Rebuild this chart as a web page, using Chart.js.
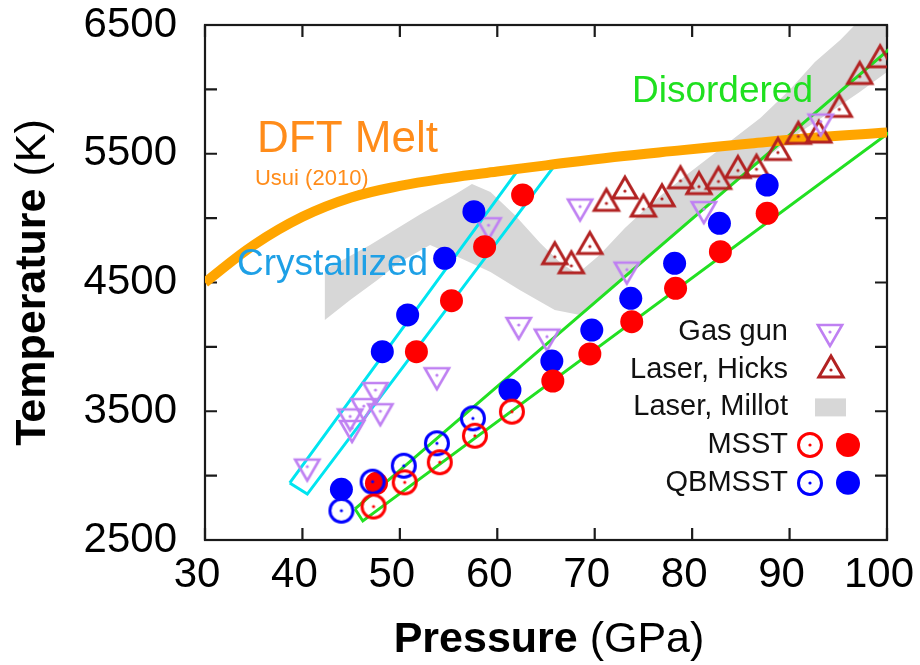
<!DOCTYPE html>
<html>
<head>
<meta charset="utf-8">
<title>Temperature vs Pressure</title>
<script src="https://cdn.jsdelivr.net/npm/chart.js@4.4.1/dist/chart.umd.min.js"></script>
<style>
  html, body { margin: 0; padding: 0; background: #ffffff; }
  #wrap { width: 920px; height: 665px; }
</style>
</head>
<body>
<div id="wrap"><canvas id="chart" width="920" height="665"></canvas></div>
<script>
// ---- axis tick labels ----
const xLabelValues = [30, 40, 50, 60, 70, 80, 90, 100];
const yLabelValues = [2500, 3500, 4500, 5500, 6500];

// ---- Gas gun (pressure GPa, temperature K) ----
const gasGunP = [40.5, 44.9, 45.1, 46.3, 47.5, 48.0, 53.8, 59.1, 62.2, 65.1, 68.5, 73.3, 81.2, 93.2];
const gasGunT = [3070, 3460, 3370, 3540, 3665, 3500, 3780, 4945, 4170, 4080, 5090, 4600, 5070, 5750];

// ---- Laser, Hicks ----
const hicksP = [65.9, 67.6, 69.5, 71.2, 73.1, 75.0, 76.9, 78.8, 80.7, 82.7, 84.7, 86.6, 88.8, 90.9, 93.0, 95.1, 97.2, 99.3];
const hicksT = [4700, 4630, 4780, 5115, 5210, 5070, 5150, 5290, 5245, 5285, 5370, 5380, 5510, 5635, 5645, 5845, 6100, 6230];

// ---- Laser, Millot band outline (upper edge left->right, then lower edge right->left) ----
const millotP = [42.3, 46.9, 52.1, 55.7, 57.4, 59.3, 61.8, 64.4, 66.4, 68.2, 70.5, 73.1, 76.2, 79.8, 83.4, 87.0, 90.0, 92.6, 95.2, 96.7, 100,
                 100, 97.2, 94.2, 91.1, 88.0, 84.9, 81.8, 78.8, 75.7, 72.6, 70.3, 68.5, 65.9, 62.3, 59.3, 56.2, 53.1, 50.0, 47.7, 44.9, 42.3];
const millotT = [4600, 4790, 5030, 5185, 5265, 5203, 5024, 4807, 4659, 4566, 4714, 4923, 5141, 5358, 5568, 5778, 5995, 6213, 6384, 6500, 6500,
                 6135, 5980, 5824, 5669, 5490, 5312, 5117, 4923, 4721, 4519, 4364, 4248, 4286, 4442, 4582, 4690, 4791, 4659, 4519, 4364, 4209];

// ---- DFT melting curve (Usui 2010) ----
const meltP = [30, 35, 40, 45, 50, 55, 60, 65, 72, 79, 86, 93, 100];
const meltT = [4500, 4790, 5010, 5160, 5250, 5312, 5362, 5410, 5475, 5528, 5580, 5628, 5665];

// ---- MSST / QBMSST simulations ----
const msstOpenP = [47.3, 50.5, 54.1, 57.7, 61.5];
const msstOpenT = [2760, 2948, 3104, 3310, 3497];
const qbmsstOpenP = [44.0, 47.2, 50.4, 53.8, 57.5];
const qbmsstOpenT = [2728, 2953, 3077, 3251, 3445];
const msstP = [47.6, 51.7, 55.3, 58.7, 62.6, 65.7, 69.5, 73.8, 78.3, 82.9, 87.7];
const msstT = [2940, 3963, 4359, 4778, 5180, 3735, 3945, 4196, 4455, 4739, 5037];
const qbmsstP = [44.0, 48.2, 50.8, 54.6, 57.6, 61.3, 65.6, 69.7, 73.7, 78.2, 82.8, 87.7];
const qbmsstT = [2894, 3963, 4248, 4688, 5050, 3665, 3890, 4131, 4377, 4649, 4960, 5257];

// ---- phase region outlines ----
const crystalBoxP = [38.7, 40.5, 65.9, 62.2, 38.7];
const crystalBoxT = [2943, 2857, 5410, 5380, 2943];
const disorderBoxP = [45.4, 46.2, 101, 101, 45.4];
const disorderBoxT = [2741, 2648, 5709, 6363, 2741];

const zip = (xs, ys) => xs.map((v, i) => ({ x: v, y: ys[i] }));

const FONT = "'Liberation Sans', Arial, Helvetica, sans-serif";
const C = {
  gas: '#bf80f2',
  hicks: '#b22222',
  millot: '#d7d7d7',
  red: '#ff0000',
  blue: '#0000ff',
  melt: '#ffa500',
  cyan: '#00e5f0',
  green: '#22e022'
};

// ---- marker glyphs ----
function markerCanvas(draw) {
  const c = document.createElement('canvas');
  c.width = 36; c.height = 36;
  const g = c.getContext('2d');
  g.translate(18, 18);
  draw(g);
  return c;
}
function centreDot(g, color) {
  g.fillStyle = color;
  g.beginPath(); g.arc(0, 0, 1.6, 0, Math.PI * 2); g.fill();
}
function ringMarker(color) {
  return markerCanvas(g => {
    g.strokeStyle = color; g.lineWidth = 3;
    g.beginPath(); g.arc(0, 0, 11.5, 0, Math.PI * 2); g.stroke();
    centreDot(g, color);
  });
}
function triMarker(color, down, lw) {
  return markerCanvas(g => {
    const r = 14;
    g.strokeStyle = color; g.lineWidth = lw; g.lineJoin = 'miter';
    g.beginPath();
    for (let k = 0; k < 3; k++) {
      const a = (down ? Math.PI : 0) + k * 2 * Math.PI / 3;
      const px = Math.sin(a) * r, py = -Math.cos(a) * r;
      if (k) g.lineTo(px, py); else g.moveTo(px, py);
    }
    g.closePath(); g.stroke();
    centreDot(g, color);
  });
}
const gasMarker = triMarker(C.gas, true, 2.6);
const hicksMarker = triMarker(C.hicks, false, 3);
const msstRing = ringMarker(C.red);
const qbmsstRing = ringMarker(C.blue);

// ---- Millot band: filled polygon through the dataset's own points ----
const bandFill = {
  id: 'bandFill',
  beforeDatasetsDraw(chart) {
    const idx = chart.data.datasets.findIndex(d => d.label === 'Laser, Millot');
    const pts = chart.getDatasetMeta(idx).data;
    const { ctx, chartArea: a } = chart;
    ctx.save();
    ctx.beginPath();
    ctx.rect(a.left, a.top, a.right - a.left, a.bottom - a.top);
    ctx.clip();
    ctx.beginPath();
    pts.forEach((p, i) => (i ? ctx.lineTo(p.x, p.y) : ctx.moveTo(p.x, p.y)));
    ctx.closePath();
    ctx.fillStyle = C.millot;
    ctx.fill();
    ctx.restore();
  }
};

// ---- plot frame with inward ticks on all four sides ----
const frameTicks = {
  id: 'frameTicks',
  beforeDatasetsDraw(chart) {
    const { ctx, chartArea: a, scales: { x, y } } = chart;
    const L = 12;
    ctx.save();
    ctx.strokeStyle = '#1a1a1a';
    ctx.lineWidth = 2.2;
    ctx.strokeRect(a.left, a.top, a.right - a.left, a.bottom - a.top);
    ctx.beginPath();
    x.ticks.forEach(t => {
      const px = x.getPixelForValue(t.value);
      ctx.moveTo(px, a.bottom); ctx.lineTo(px, a.bottom - L);
      ctx.moveTo(px, a.top); ctx.lineTo(px, a.top + L);
    });
    y.ticks.forEach(t => {
      const py = y.getPixelForValue(t.value);
      ctx.moveTo(a.left, py); ctx.lineTo(a.left + L, py);
      ctx.moveTo(a.right, py); ctx.lineTo(a.right - L, py);
    });
    ctx.stroke();
    ctx.restore();
  }
};

// ---- in-plot text labels (placed in data coordinates) ----
const notes = [
  { text: 'DFT Melt', p: 35.34, t: 5514, size: 44, color: '#ff8c1a' },
  { text: 'Usui (2010)', p: 35.13, t: 5257, size: 22, color: '#ff8c1a' },
  { text: 'Crystallized', p: 33.28, t: 4558, size: 37, color: '#1ea0e6' },
  { text: 'Disordered', p: 73.83, t: 5902, size: 37, color: '#1fe01f' }
];
const annotations = {
  id: 'annotations',
  afterDatasetsDraw(chart) {
    const { ctx, scales: { x, y } } = chart;
    ctx.save();
    ctx.textAlign = 'left';
    ctx.textBaseline = 'alphabetic';
    notes.forEach(n => {
      ctx.font = `${n.size}px ${FONT}`;
      ctx.fillStyle = n.color;
      ctx.fillText(n.text, x.getPixelForValue(n.p), y.getPixelForValue(n.t));
    });
    ctx.restore();
  }
};

// ---- axis titles: bold quantity + regular unit ----
function mixedTitle(ctx, boldPart, plainPart, size) {
  ctx.font = `bold ${size}px ${FONT}`;
  const w1 = ctx.measureText(boldPart).width;
  ctx.font = `${size}px ${FONT}`;
  const w2 = ctx.measureText(plainPart).width;
  let x0 = -(w1 + w2) / 2;
  ctx.font = `bold ${size}px ${FONT}`;
  ctx.fillText(boldPart, x0, 0);
  ctx.font = `${size}px ${FONT}`;
  ctx.fillText(plainPart, x0 + w1, 0);
}
const axisTitles = {
  id: 'axisTitles',
  afterDraw(chart) {
    const { ctx, chartArea: a } = chart;
    ctx.save();
    ctx.fillStyle = '#000';
    ctx.textAlign = 'left';
    ctx.textBaseline = 'alphabetic';
    ctx.save();
    ctx.translate((a.left + a.right) / 2 + 3, a.bottom + 112);
    mixedTitle(ctx, 'Pressure', ' (GPa)', 43);
    ctx.restore();
    ctx.save();
    ctx.translate(a.left - 160, (a.top + a.bottom) / 2);
    ctx.rotate(-Math.PI / 2);
    mixedTitle(ctx, 'Temperature', ' (K)', 43);
    ctx.restore();
    ctx.restore();
  }
};

// ---- key: text right-aligned, markers to its right ----
const keyBox = {
  id: 'keyBox',
  afterDraw(chart) {
    const { ctx, chartArea: a } = chart;
    const textRight = a.right - 99;
    const row0 = a.bottom - 208;
    const step = 37.7;
    const labels = ['Gas gun', 'Laser, Hicks', 'Laser, Millot', 'MSST', 'QBMSST'];
    ctx.save();
    ctx.font = `29px ${FONT}`;
    ctx.fillStyle = '#111';
    ctx.textAlign = 'right';
    ctx.textBaseline = 'middle';
    labels.forEach((s, i) => ctx.fillText(s, textRight, row0 + i * step));
    const put = (img, cx, cy) => ctx.drawImage(img, Math.round(cx - 18), Math.round(cy - 18));
    put(gasMarker, a.right - 57, row0);
    put(hicksMarker, a.right - 56, row0 + step);
    ctx.fillStyle = C.millot;
    ctx.fillRect(a.right - 72, row0 + 2 * step - 9, 31, 18);
    put(msstRing, a.right - 77, row0 + 3 * step);
    put(qbmsstRing, a.right - 77, row0 + 4 * step);
    ctx.fillStyle = C.red;
    ctx.beginPath(); ctx.arc(a.right - 39, row0 + 3 * step, 12, 0, Math.PI * 2); ctx.fill();
    ctx.fillStyle = C.blue;
    ctx.beginPath(); ctx.arc(a.right - 39, row0 + 4 * step, 12, 0, Math.PI * 2); ctx.fill();
    ctx.restore();
  }
};

const filledDot = (color) => ({
  pointStyle: 'circle', pointRadius: 11.5, pointBackgroundColor: color,
  pointBorderWidth: 0, pointBorderColor: color, showLine: false
});

new Chart(document.getElementById('chart'), {
  type: 'scatter',
  data: {
    datasets: [
      { label: 'Laser, Millot', data: zip(millotP, millotT), pointRadius: 0, showLine: false, order: 100 },
      { label: 'Crystallized region', data: zip(crystalBoxP, crystalBoxT), showLine: true, borderColor: C.cyan,
        borderWidth: 3, pointRadius: 0, fill: false, clip: 1, order: 90 },
      { label: 'Disordered region', data: zip(disorderBoxP, disorderBoxT), showLine: true, borderColor: C.green,
        borderWidth: 3, pointRadius: 0, fill: false, clip: 1, order: 90 },
      { label: 'DFT Melt', data: zip(meltP, meltT), showLine: true, borderColor: C.melt, borderWidth: 10,
        pointRadius: 0, tension: 0.4, fill: false, clip: 0, order: 80 },
      { label: 'Laser, Hicks', data: zip(hicksP, hicksT), pointStyle: hicksMarker, pointRadius: 14, showLine: false, order: 60 },
      { label: 'Gas gun', data: zip(gasGunP, gasGunT), pointStyle: gasMarker, pointRadius: 14, showLine: false, order: 50 },
      Object.assign({ label: 'MSST', data: zip(msstP, msstT), order: 40 }, filledDot(C.red)),
      Object.assign({ label: 'QBMSST', data: zip(qbmsstP, qbmsstT), order: 40 }, filledDot(C.blue)),
      { label: 'QBMSST (open)', data: zip(qbmsstOpenP, qbmsstOpenT), pointStyle: qbmsstRing, pointRadius: 13, showLine: false, order: 30 },
      { label: 'MSST (open)', data: zip(msstOpenP, msstOpenT), pointStyle: msstRing, pointRadius: 13, showLine: false, order: 20 }
    ]
  },
  options: {
    responsive: false,
    animation: false,
    events: [],
    devicePixelRatio: 1,
    layout: { padding: { left: 0, right: 33, top: 25, bottom: 0 } },
    plugins: { legend: { display: false }, tooltip: { enabled: false } },
    scales: {
      x: {
        type: 'linear', min: 30, max: 100,
        grid: { display: false, drawTicks: false },
        border: { display: false },
        afterBuildTicks: s => { s.ticks = xLabelValues.map(v => ({ value: v })); },
        ticks: {
          color: '#000', padding: 14, labelOffset: -8, maxRotation: 0,
          font: { family: FONT, size: 42, lineHeight: 1.0 },
          callback: v => String(v)
        },
        afterFit: s => { s.height = 125; s.paddingLeft = 0; s.paddingRight = 0; }
      },
      y: {
        type: 'linear', min: 2500, max: 6500,
        grid: { display: false, drawTicks: false },
        border: { display: false },
        afterBuildTicks: s => {
          const t = [];
          for (let v = 2500; v <= 6500; v += 500) t.push({ value: v });
          s.ticks = t;
        },
        ticks: {
          color: '#000', padding: 28,
          font: { family: FONT, size: 42, lineHeight: 1.0 },
          callback: v => (yLabelValues.includes(v) ? String(v) : '')
        },
        afterFit: s => { s.width = 205; s.paddingTop = 0; s.paddingBottom = 0; }
      }
    }
  },
  plugins: [bandFill, frameTicks, annotations, axisTitles, keyBox]
});
</script>
</body>
</html>
